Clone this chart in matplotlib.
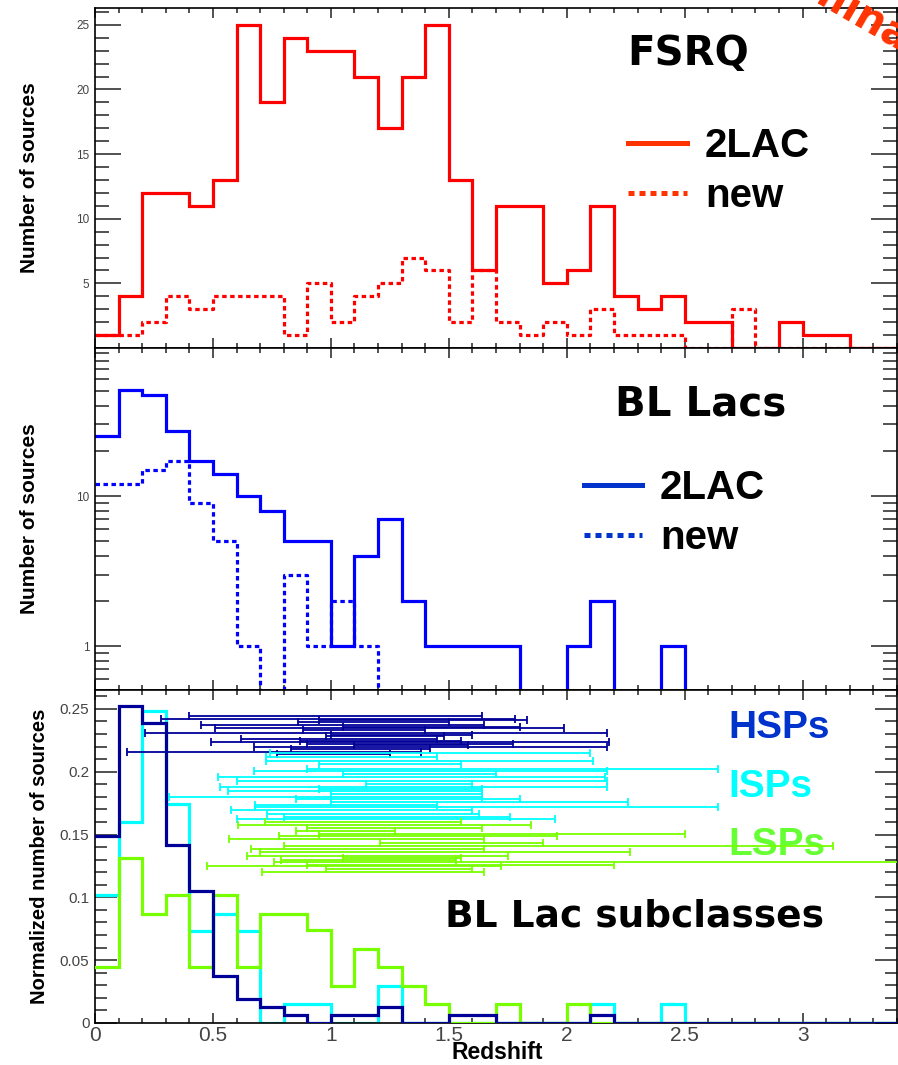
import numpy as np
import matplotlib.pyplot as plt
from matplotlib.lines import Line2D
from matplotlib.ticker import MultipleLocator, LogLocator, NullFormatter, FixedLocator

# redshift bins, width 0.1
edges = np.round(np.arange(0, 3.41, 0.1), 1)

fsrq_2lac = [1, 4, 12, 12, 11, 13, 25, 19, 24, 23, 23, 21, 17, 21, 25, 13, 6,
             11, 11, 5, 6, 11, 4, 3, 4, 2, 2, 0, 0, 2, 1, 1, 0, 0]
fsrq_new = [1, 1, 2, 4, 3, 4, 4, 4, 1, 5, 2, 4, 5, 7, 6, 2, 6,
            2, 1, 2, 1, 3, 1, 1, 1, 0, 0, 3, 0, 0, 0, 0, 0, 0]

bll_2lac = [25, 51, 47, 27, 17, 14, 10, 8, 5, 5, 1, 4, 7, 2, 1, 1, 1,
            1, 0, 0, 1, 2, 0, 0, 1, 0, 0, 0, 0, 0, 0, 0, 0, 0]
bll_new = [12, 12, 15, 17, 9, 5, 1, 0, 3, 1, 2, 1, 0, 0, 0, 0, 0,
           0, 0, 0, 0, 0, 0, 0, 0, 0, 0, 0, 0, 0, 0, 0, 0, 0]

hsp_frac = [0.149, 0.252, 0.239, 0.1415, 0.105, 0.0375, 0.019, 0.0125, 0.0065,
            0, 0.0065, 0.0065, 0.0125, 0, 0, 0.0065, 0.0065, 0, 0, 0, 0,
            0.0065, 0, 0, 0, 0, 0, 0, 0, 0, 0, 0, 0, 0]
isp_frac = [0.1015, 0.160, 0.248, 0.1745, 0.0735, 0.087, 0.0735, 0, 0.015,
            0.015, 0, 0, 0.0295, 0, 0, 0, 0, 0, 0, 0, 0, 0.015, 0, 0, 0.015,
            0, 0, 0, 0, 0, 0, 0, 0, 0]
lsp_frac = [0.0445, 0.131, 0.087, 0.102, 0.0445, 0.102, 0.0445, 0.087, 0.087,
            0.074, 0.0295, 0.059, 0.0445, 0.0295, 0.015, 0, 0, 0.015, 0, 0,
            0.015, 0, 0, 0, 0, 0, 0, 0, 0, 0, 0, 0, 0, 0]

# redshift ranges (lower, upper) of individual sources, stacked by row
hsp_y = [0.2444, 0.2420, 0.2412, 0.2396, 0.2373, 0.2357, 0.2349, 0.2333,
         0.2309, 0.2293, 0.2285, 0.2261, 0.2245, 0.2237, 0.2221, 0.2213,
         0.2197, 0.2182, 0.2158, 0.2142]
hsp_lo = [0.40, 0.28, 0.95, 0.86, 0.45, 1.05, 0.51, 0.88, 0.21, 1.00, 0.98,
          0.62, 0.87, 0.49, 0.90, 1.10, 0.675, 0.83, 0.134, 0.77]
hsp_hi = [1.64, 1.78, 1.83, 1.50, 1.65, 1.80, 1.99, 1.40, 2.17, 1.60, 1.48,
          1.45, 1.55, 2.18, 1.77, 1.58, 2.17, 1.42, 1.38, 1.25]

isp_y = [0.2150, 0.2118, 0.2086, 0.2062, 0.2022, 0.2006, 0.1982, 0.1959,
         0.1927, 0.1903, 0.1879, 0.1863, 0.1847, 0.1823, 0.1799, 0.1783,
         0.1760, 0.1736, 0.1720, 0.1696, 0.1664, 0.1640, 0.1624]
isp_lo = [0.74, 0.725, 0.725, 0.95, 0.90, 0.675, 1.05, 0.52, 0.60, 1.15, 0.53,
          0.95, 0.565, 1.00, 0.314, 0.85, 1.00, 0.68, 0.68, 0.577, 0.73, 0.80,
          0.60]
isp_hi = [2.10, 1.45, 2.11, 1.55, 2.64, 2.17, 1.70, 2.16, 2.17, 1.60, 2.17,
          1.64, 1.64, 1.64, 1.64, 1.80, 2.26, 1.45, 2.64, 1.60, 1.63, 1.76,
          1.95]

lsp_y = [0.1600, 0.1576, 0.1553, 0.1529, 0.1505, 0.1489, 0.1465, 0.1433,
         0.1409, 0.1385, 0.1361, 0.1330, 0.1314, 0.1298, 0.1282, 0.1258,
         0.1250, 0.1226, 0.1202]
lsp_lo = [0.72, 0.605, 0.90, 0.85, 0.95, 0.78, 0.57, 1.21, 0.80, 0.66, 0.70,
          0.644, 1.05, 0.79, 0.76, 0.90, 0.474, 0.98, 0.71]
lsp_hi = [1.55, 1.85, 1.64, 1.27, 2.50, 1.96, 1.65, 1.90, 3.13, 1.65, 2.27,
          1.75, 1.55, 1.53, 3.60, 2.20, 1.72, 1.60, 1.65]

RED = '#ff0000'
BLUE = '#0000ff'
NAVY = '#000099'
CYAN = '#00ffff'
GREEN = '#77ff00'
comic = 'DejaVu Sans'
helv = 'Liberation Sans'

fig = plt.figure(figsize=(8.98, 10.65), dpi=100)
x0, w = 95 / 898, 802 / 898
ax1 = fig.add_axes([x0, 1 - 348 / 1065, w, 340 / 1065])
ax2 = fig.add_axes([x0, 1 - 690 / 1065, w, 342 / 1065])
ax3 = fig.add_axes([x0, 1 - 1023 / 1065, w, 333 / 1065])


def hist_line(ax, vals, color, ls='-', lw=2.3, z=2):
    ax.step(edges, list(vals) + [vals[-1]], where='post', color=color,
            ls=ls, lw=lw, zorder=z, solid_joinstyle='miter')


dotted = (0, (1.4, 1.1))

for ax in (ax1, ax2, ax3):
    ax.set_xlim(0, 3.4)
    ax.xaxis.set_major_locator(MultipleLocator(0.5))
    ax.xaxis.set_minor_locator(MultipleLocator(0.1))
    ax.tick_params(which='both', direction='in', top=True, right=True,
                   width=1.1, colors='#222222', labelcolor='#444444')
    ax.tick_params(axis='x', which='major', length=7.5)
    ax.tick_params(axis='x', which='minor', length=3.8)
    for s in ax.spines.values():
        s.set_linewidth(1.2)

legend_kw = dict(loc='upper left', frameon=False, handlelength=1.45,
                 handletextpad=0.45, labelspacing=0.3, borderpad=0,
                 prop={'family': helv, 'weight': 'bold', 'size': 29})

# FSRQ
hist_line(ax1, fsrq_2lac, RED)
hist_line(ax1, fsrq_new, RED, ls=dotted)
ax1.set_ylim(0, 26.3)
ax1.yaxis.set_major_locator(FixedLocator([5, 10, 15, 20, 25]))
ax1.yaxis.set_minor_locator(MultipleLocator(1))
ax1.tick_params(axis='y', which='major', length=19, labelsize=8.5, pad=4)
ax1.tick_params(axis='y', which='minor', length=10)
ax1.tick_params(axis='x', labelbottom=False)
ax1.set_ylabel('Number of sources', fontsize=15, fontweight='bold',
               family=helv, labelpad=27)
ax1.text(0.74, 0.865, 'FSRQ', transform=ax1.transAxes, fontsize=29,
         fontweight='bold', family=comic, ha='center', va='center')
h1 = [Line2D([], [], color='#ff3300', lw=3.6),
      Line2D([], [], color='#ff3300', lw=3.6, ls=(0, (1.2, 1.0)))]
ax1.legend(h1, ['2LAC', 'new'], bbox_to_anchor=(0.64, 0.71), **legend_kw)

# BL Lacs
hist_line(ax2, bll_2lac, BLUE)
hist_line(ax2, bll_new, BLUE, ls=dotted)
ax2.set_yscale('log', nonpositive='clip')
ax2.set_ylim(0.51, 97)
ax2.yaxis.set_major_locator(FixedLocator([1, 10]))
ax2.set_yticklabels(['1', '10'])
ax2.yaxis.set_minor_locator(LogLocator(base=10, subs=np.arange(2, 10)))
ax2.yaxis.set_minor_formatter(NullFormatter())
ax2.tick_params(axis='y', which='major', length=19, labelsize=8.5, pad=4)
ax2.tick_params(axis='y', which='minor', length=10)
ax2.tick_params(axis='x', labelbottom=False)
ax2.set_ylabel('Number of sources', fontsize=15, fontweight='bold',
               family=helv, labelpad=27)
ax2.text(0.755, 0.835, 'BL Lacs', transform=ax2.transAxes, fontsize=29,
         fontweight='bold', family=comic, ha='center', va='center')
h2 = [Line2D([], [], color='#0033cc', lw=3.6),
      Line2D([], [], color='#0033cc', lw=3.6, ls=(0, (1.2, 1.0)))]
ax2.legend(h2, ['2LAC', 'new'], bbox_to_anchor=(0.584, 0.705), **legend_kw)

# BL Lac subclasses
hist_line(ax3, isp_frac, CYAN, z=2)
hist_line(ax3, lsp_frac, GREEN, z=3)
hist_line(ax3, hsp_frac, NAVY, z=4)
for ys, lo, hi, col in ((hsp_y, hsp_lo, hsp_hi, NAVY),
                        (isp_y, isp_lo, isp_hi, CYAN),
                        (lsp_y, lsp_lo, lsp_hi, GREEN)):
    lo = np.array(lo)
    hi = np.array(hi)
    mid = (lo + hi) / 2
    ax3.errorbar(mid, ys, xerr=[mid - lo, hi - mid], fmt='none', ecolor=col,
                 elinewidth=1.3, capsize=2.6, capthick=1.3, zorder=5)
ax3.set_ylim(0, 0.265)
ax3.set_yticks([0, 0.05, 0.1, 0.15, 0.2, 0.25])
ax3.set_yticklabels(['0', '0.05', '0.1', '0.15', '0.2', '0.25'])
ax3.yaxis.set_minor_locator(MultipleLocator(0.01))
ax3.set_xticks([0, 0.5, 1, 1.5, 2, 2.5, 3])
ax3.set_xticklabels(['0', '0.5', '1', '1.5', '2', '2.5', '3'])
ax3.xaxis.set_minor_locator(MultipleLocator(0.1))
ax3.tick_params(axis='y', which='major', length=16, labelsize=11, pad=4)
ax3.tick_params(axis='y', which='minor', length=8.5)
ax3.tick_params(axis='x', which='major', labelsize=15, pad=2)
for lab in ax3.get_xticklabels() + ax3.get_yticklabels():
    lab.set_family(helv)
for a in (ax1, ax2):
    for lab in a.get_yticklabels():
        lab.set_family(helv)
ax3.set_ylabel('Normalized number of sources', fontsize=14.5,
               fontweight='bold', family=helv, labelpad=8)
ax3.set_xlabel('Redshift', fontsize=16.5, fontweight='bold', family=helv)
ax3.xaxis.set_label_coords(0.501, -0.054)
ax3.text(0.79, 0.885, 'HSPs', transform=ax3.transAxes, fontsize=28,
         fontweight='bold', family=helv, color='#0033cc', ha='left',
         va='center')
ax3.text(0.79, 0.71, 'ISPs', transform=ax3.transAxes, fontsize=28,
         fontweight='bold', family=helv, color=CYAN, ha='left', va='center')
ax3.text(0.79, 0.535, 'LSPs', transform=ax3.transAxes, fontsize=28,
         fontweight='bold', family=helv, color='#66ff33', ha='left',
         va='center')
ax3.text(0.673, 0.32, 'BL Lac subclasses', transform=ax3.transAxes,
         fontsize=27, fontweight='bold', family=comic, ha='center',
         va='center')

# preliminary stamp in the corner
fig.text(0.925, 1.0, 'Preliminary', fontsize=30, fontweight='bold',
         family=comic, color='#ff3300', rotation=-30, ha='center',
         va='center', rotation_mode='anchor')

fig.savefig('out.png', dpi=100)
